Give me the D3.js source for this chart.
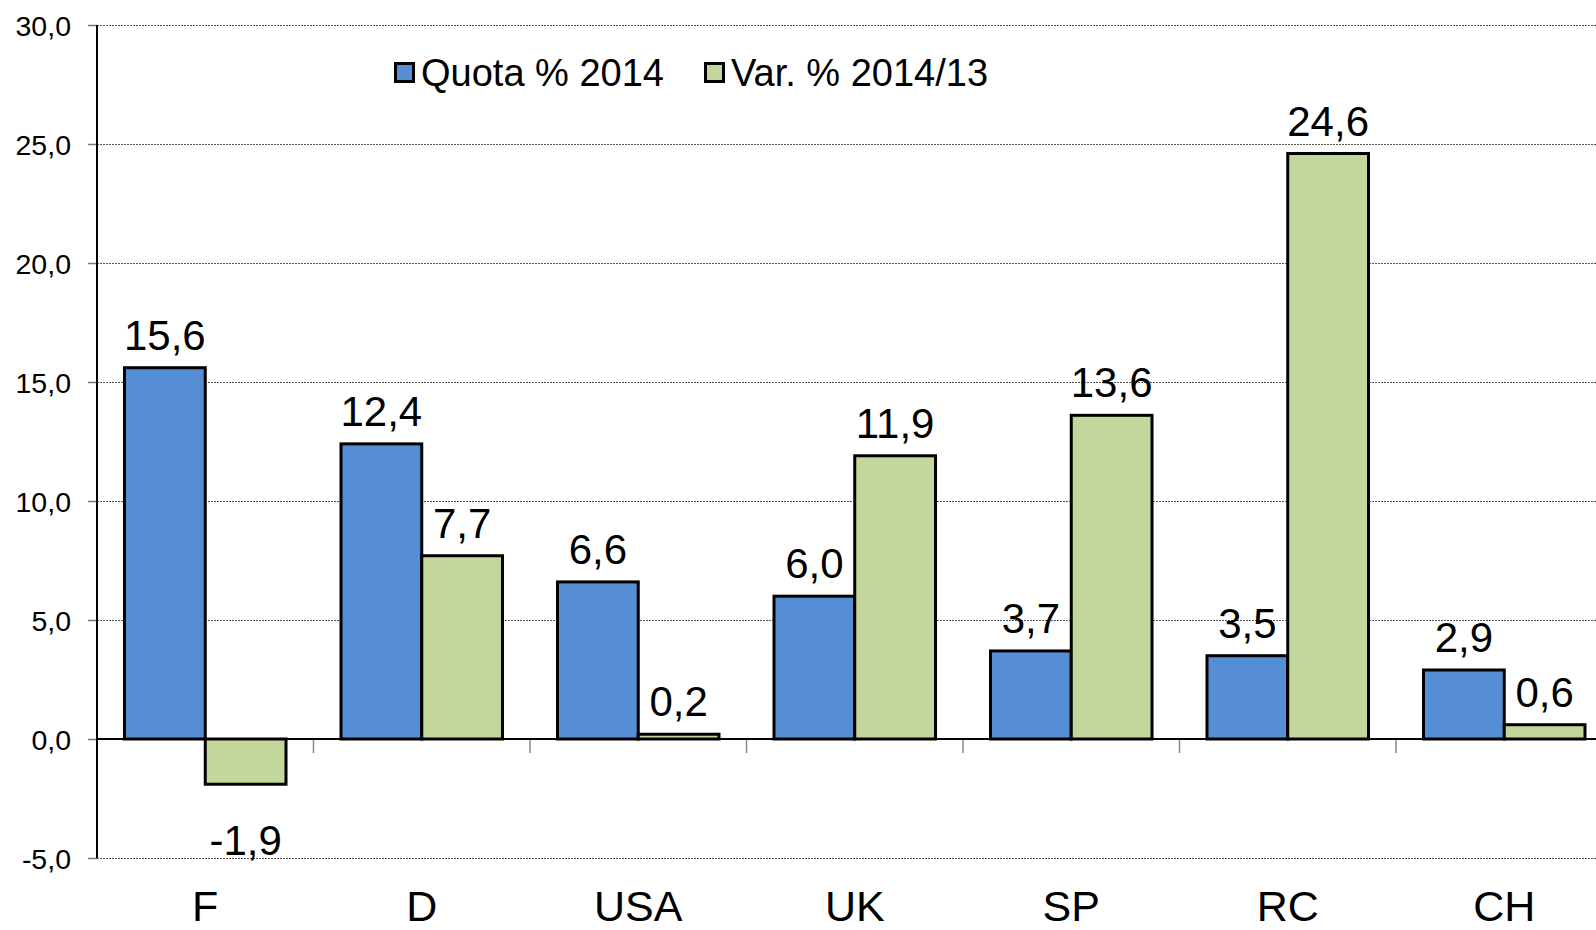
<!DOCTYPE html>
<html>
<head>
<meta charset="utf-8">
<script src="https://cdn.jsdelivr.net/npm/d3@7"></script>
<style>
  body { margin: 0; background: #fff; }
  #chart { width: 1596px; height: 930px; overflow: hidden; }
  text { font-family: "Liberation Sans", Arial, sans-serif; fill: #000; }
  .grid line { stroke: #555; stroke-width: 1; stroke-dasharray: 2,1; }
  .grid .domain { display: none; }
  .bar { stroke: #000; stroke-width: 3; }
</style>
</head>
<body>
<div id="chart"></div>
<script>
// categories and series
var categories = ["F", "D", "USA", "UK", "SP", "RC", "CH"];
var quota2014 = [15.6, 12.4, 6.6, 6.0, 3.7, 3.5, 2.9];
var var201413 = [-1.9, 7.7, 0.2, 11.9, 13.6, 24.6, 0.6];
var seriesNames = ["Quota % 2014", "Var. % 2014/13"];
var yTicks = [-5, 0, 5, 10, 15, 20, 25, 30];

// italian style numbers, plain hyphen for minus
var locale = d3.formatLocale({ decimal: ",", thousands: ".", grouping: [3], currency: ["", "€"], minus: "-" });
var fmt = locale.format(".1f");

var Chart = {
  margin: { top: 25, right: 0, bottom: 72, left: 97 },
  width: 1596,
  height: 930,
  colors: ["#558ED5", "#C3D69B"],

  // the plot runs past the right edge of the picture, like the original
  calculateParamaters: function() {
    this.plotH = this.height - this.margin.top - this.margin.bottom;
    this.bandW = 216.5;
    this.plotW = this.bandW * categories.length;
  },
  drawPlot: function() {
    document.querySelector("#chart").innerHTML = '';
    this.svg = d3.select("#chart").append("svg")
      .attr("width", this.width)
      .attr("height", this.height);
    this.plot = this.svg.append("g")
      .attr("transform", "translate(" + this.margin.left + "," + this.margin.top + ")");
  },
  createScales: function() {
    this.yScale = d3.scaleLinear()
      .domain([-5, 30])
      .range([this.plotH, 0]);
    this.xScale = d3.scaleBand()
      .domain(categories)
      .range([0, this.plotW])
      .paddingInner(0.254)
      .paddingOuter(0.127);
    this.xSub = d3.scaleBand()
      .domain([0, 1])
      .range([0, this.xScale.bandwidth()]);
  },
  addAxes: function() {
    var that = this;

    // dotted grid
    this.plot.append("g")
      .attr("class", "grid")
      .call(d3.axisLeft(this.yScale)
        .tickValues(yTicks.filter(function(t) { return t !== 0; }))
        .tickSize(-(this.width - this.margin.left))
        .tickFormat(""));

    // y tick marks + labels
    var yAxis = this.plot.append("g")
      .call(d3.axisLeft(this.yScale)
        .tickValues(yTicks)
        .tickSize(9)
        .tickPadding(17)
        .tickFormat(fmt));
    yAxis.select(".domain").remove();
    yAxis.selectAll(".tick line").attr("stroke", "#777").attr("stroke-width", 1.5);
    yAxis.selectAll("text")
      .style("font-size", "28.5px")
      .attr("dy", "0.36em");

    // y axis line
    this.plot.append("line")
      .attr("x1", 0).attr("x2", 0)
      .attr("y1", 0).attr("y2", this.plotH)
      .attr("stroke", "#000").attr("stroke-width", 2);

    // category boundary ticks under the zero line
    var y0 = this.yScale(0);
    this.plot.append("g")
      .selectAll("line")
      .data(d3.range(1, categories.length))
      .enter().append("line")
      .attr("x1", function(i) { return i * that.bandW; })
      .attr("x2", function(i) { return i * that.bandW; })
      .attr("y1", y0).attr("y2", y0 + 14)
      .attr("stroke", "#888").attr("stroke-width", 1.5);

    // zero line
    this.plot.append("line")
      .attr("x1", 0).attr("x2", this.width)
      .attr("y1", y0).attr("y2", y0)
      .attr("stroke", "#000").attr("stroke-width", 2);

    // category labels
    this.plot.append("g")
      .selectAll("text")
      .data(categories)
      .enter().append("text")
      .attr("x", function(d) { return that.xScale(d) + that.xScale.bandwidth() / 2; })
      .attr("y", this.plotH + 63)
      .attr("text-anchor", "middle")
      .style("font-size", "43px")
      .text(function(d) { return d; });
  },
  drawData: function() {
    var that = this;
    var rows = [];
    categories.forEach(function(c, i) {
      rows.push({ cat: c, s: 0, v: quota2014[i] });
      rows.push({ cat: c, s: 1, v: var201413[i] });
    });

    this.plot.append("g")
      .selectAll("rect")
      .data(rows)
      .enter().append("rect")
      .attr("class", "bar")
      .attr("x", function(d) { return that.xScale(d.cat) + that.xSub(d.s); })
      .attr("width", this.xSub.bandwidth())
      .attr("y", function(d) { return that.yScale(Math.max(0, d.v)); })
      .attr("height", function(d) { return Math.abs(that.yScale(d.v) - that.yScale(0)); })
      .attr("fill", function(d) { return that.colors[d.s]; });

    // value labels
    this.plot.append("g")
      .selectAll("text")
      .data(rows)
      .enter().append("text")
      .attr("x", function(d) { return that.xScale(d.cat) + that.xSub(d.s) + that.xSub.bandwidth() / 2; })
      .attr("y", function(d) {
        return d.v >= 0 ? that.yScale(d.v) - 18 : that.yScale(d.v) + 71;
      })
      .attr("text-anchor", "middle")
      .style("font-size", "42px")
      .text(function(d) { return fmt(d.v); });
  },
  addLegend: function() {
    var that = this;
    var pos = [394, 704];
    var lg = this.svg.append("g");
    seriesNames.forEach(function(name, i) {
      lg.append("rect")
        .attr("x", pos[i] + 1.5).attr("y", 63.5)
        .attr("width", 18).attr("height", 18)
        .attr("fill", that.colors[i])
        .attr("stroke", "#000").attr("stroke-width", 3);
      lg.append("text")
        .attr("x", pos[i] + 27).attr("y", 86)
        .style("font-size", "38px")
        .text(name);
    });
  },
  draw: function() {
    this.calculateParamaters();
    this.drawPlot();
    this.createScales();
    this.addAxes();
    this.drawData();
    this.addLegend();
  }
};

Chart.draw();
</script>
</body>
</html>
